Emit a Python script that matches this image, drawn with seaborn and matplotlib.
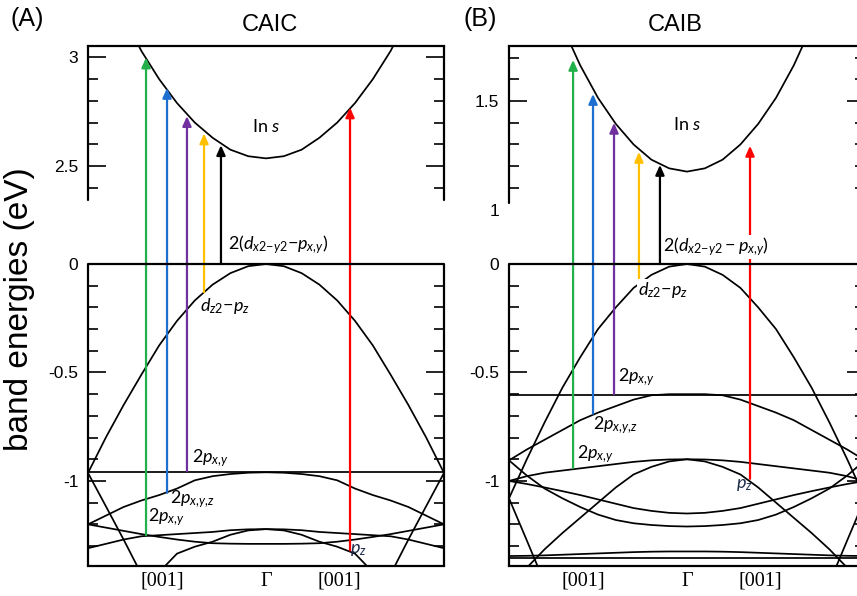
import numpy as np
import pandas as pd
import matplotlib
matplotlib.use('Agg')
import matplotlib.pyplot as plt
import seaborn as sns

nan = np.nan

# k path [001] - Gamma - [001], zone edges at -1 and 1
k = [-1.0, -0.9, -0.8, -0.7, -0.6, -0.5, -0.4, -0.3, -0.2, -0.1, 0.0,
     0.1, 0.2, 0.3, 0.4, 0.5, 0.6, 0.7, 0.8, 0.9, 1.0]
k_left = [-1.0, -0.9, -0.8, -0.7]
k_right = [0.7, 0.8, 0.9, 1.0]
k_ticks = [-0.58, 0.0, 0.41]
k_labels = ['[001]', 'Γ', '[001]']

# ---- CAIC (eV) ----
caic_cond = [nan, nan, 3.19, 3.03, 2.90, 2.79, 2.70, 2.63, 2.575, 2.545, 2.535,
             2.545, 2.575, 2.63, 2.70, 2.79, 2.90, 3.03, 3.19, nan, nan]
caic_v1 = [-0.963, -0.80, -0.65, -0.51, -0.375, -0.262, -0.168, -0.095, -0.042, -0.01, 0.0,
           -0.01, -0.042, -0.095, -0.168, -0.262, -0.375, -0.51, -0.65, -0.80, -0.963]
caic_v2 = [-0.96, -0.96, -0.96, -0.96, -0.96, -0.96, -0.96, -0.96, -0.96, -0.96, -0.96,
           -0.96, -0.96, -0.96, -0.96, -0.96, -0.96, -0.96, -0.96, -0.96, -0.96]
caic_v3 = [-1.20, -1.16, -1.12, -1.09, -1.065, -1.035, -0.997, -0.978, -0.968, -0.962, -0.96,
           -0.962, -0.968, -0.978, -0.997, -1.035, -1.065, -1.09, -1.12, -1.16, -1.20]
caic_v4 = [-1.20, -1.215, -1.23, -1.245, -1.258, -1.27, -1.28, -1.287, -1.289, -1.29, -1.29,
           -1.29, -1.289, -1.287, -1.28, -1.27, -1.258, -1.245, -1.23, -1.215, -1.20]
caic_v5 = [-1.31, -1.29, -1.27, -1.255, -1.25, -1.245, -1.24, -1.235, -1.227, -1.223, -1.222,
           -1.223, -1.227, -1.235, -1.24, -1.245, -1.25, -1.255, -1.27, -1.29, -1.31]
caic_v6 = [nan, nan, nan, nan, -1.42, -1.335, -1.303, -1.28, -1.248, -1.228, -1.222,
           -1.228, -1.248, -1.28, -1.303, -1.335, -1.42, nan, nan, nan, nan]
caic_edge_l = [-0.963, -1.116, -1.27, -1.43]
caic_edge_r = [-1.43, -1.27, -1.116, -0.963]

caic_arrow_k = [-0.674, -0.556, -0.444, -0.348, -0.253, 0.472]
caic_arrow_from = [-1.25, -1.055, -0.955, -0.13, 0.0, -1.32]
caic_arrow_to = [3.0, 2.86, 2.73, 2.65, 2.596, 2.77]

# ---- CAIB (eV) ----
caib_cond = [nan, nan, nan, 1.845, 1.665, 1.515, 1.395, 1.30, 1.23, 1.19, 1.175,
             1.19, 1.23, 1.30, 1.395, 1.515, 1.665, 1.845, nan, nan, nan]
caib_v1 = [-1.08, -0.90, -0.73, -0.57, -0.43, -0.30, -0.20, -0.11, -0.05, -0.012, 0.0,
           -0.012, -0.05, -0.11, -0.20, -0.30, -0.43, -0.57, -0.73, -0.90, -1.08]
caib_v2 = [-0.603, -0.603, -0.603, -0.603, -0.603, -0.603, -0.603, -0.603, -0.603, -0.603, -0.603,
           -0.603, -0.603, -0.603, -0.603, -0.603, -0.603, -0.603, -0.603, -0.603, -0.603]
caib_v3 = [-0.905, -0.855, -0.81, -0.765, -0.72, -0.685, -0.655, -0.625, -0.605, -0.60, -0.60,
           -0.60, -0.605, -0.625, -0.655, -0.685, -0.72, -0.765, -0.81, -0.855, -0.905]
caib_v4 = [-1.0, -0.978, -0.962, -0.952, -0.942, -0.932, -0.922, -0.912, -0.905, -0.901, -0.90,
           -0.901, -0.905, -0.912, -0.922, -0.932, -0.942, -0.952, -0.962, -0.978, -1.0]
caib_v5 = [nan, -1.40, -1.315, -1.24, -1.17, -1.10, -1.03, -0.97, -0.935, -0.91, -0.90,
           -0.91, -0.935, -0.97, -1.03, -1.10, -1.17, -1.24, -1.315, -1.40, nan]
caib_v6 = [-1.0, -1.014, -1.03, -1.047, -1.065, -1.085, -1.105, -1.125, -1.138, -1.147, -1.15,
           -1.147, -1.138, -1.125, -1.105, -1.085, -1.065, -1.047, -1.03, -1.014, -1.0]
caib_v7 = [-0.905, -0.975, -1.035, -1.08, -1.12, -1.155, -1.18, -1.195, -1.203, -1.208, -1.21,
           -1.208, -1.203, -1.195, -1.18, -1.155, -1.12, -1.08, -1.035, -0.975, -0.905]
caib_v8 = [-1.355, -1.355, -1.355, -1.355, -1.355, -1.355, -1.355, -1.355, -1.355, -1.355, -1.355,
           -1.355, -1.355, -1.355, -1.355, -1.355, -1.355, -1.355, -1.355, -1.355, -1.355]
caib_v9 = [-1.346, -1.345, -1.343, -1.34, -1.337, -1.334, -1.331, -1.328, -1.326, -1.325, -1.325,
           -1.325, -1.326, -1.328, -1.331, -1.334, -1.337, -1.34, -1.343, -1.345, -1.346]
caib_edge_l = [-1.08, -1.274, -1.47, nan]
caib_edge_r = [nan, -1.47, -1.274, -1.08]

caib_arrow_k = [-0.64, -0.528, -0.41, -0.27, -0.152, 0.354]
caib_arrow_from = [-0.94, -0.69, -0.60, -0.08, 0.0, -0.99]
caib_arrow_to = [1.69, 1.533, 1.40, 1.266, 1.206, 1.294]

arrow_colors = ['#22b04b', '#1f6fd0', '#7030a0', '#ffc000', 'black', '#ff0000']

lower_major = [-1.0, -0.5, 0.0]
lower_labels = ['-1', '-0.5', '0']
lower_minor = [-1.3, -1.2, -1.1, -0.9, -0.8, -0.7, -0.6, -0.4, -0.3, -0.2, -0.1]

sns.set_theme(style='white', rc={'axes.edgecolor': 'black', 'xtick.color': 'black',
                                 'ytick.color': 'black', 'text.color': 'black'})
plt.rcParams['font.family'] = ['Liberation Sans', 'DejaVu Sans']
plt.rcParams['mathtext.fontset'] = 'custom'
plt.rcParams['mathtext.rm'] = 'Lato'
plt.rcParams['mathtext.it'] = 'Lato:italic'
plt.rcParams['mathtext.bf'] = 'Lato:bold'

Y_TOP, Y_BOT = 1.005, -1.392


def draw_panel(ax, bands, cond, offset, arr_k, arr_from, arr_to,
               up_major, up_labels, up_minor, up_bottom):
    rows = []
    for name, kk, ee, shift in bands + [('cond', k, cond, offset)]:
        for x, y in zip(kk, ee):
            if not np.isnan(y):
                rows.append((x, y - shift, name))
    df = pd.DataFrame(rows, columns=['k', 'E', 'band'])
    sns.lineplot(data=df, x='k', y='E', units='band', estimator=None, sort=False,
                 color='black', lw=1.25, ax=ax, legend=False)
    ax.axhline(0, color='black', lw=1.6, zorder=4)

    for x, e0, e1, c in zip(arr_k, arr_from, arr_to, arrow_colors):
        ax.annotate('', xy=(x, e1 - offset), xytext=(x, e0),
                    arrowprops=dict(arrowstyle='-|>,head_length=0.45,head_width=0.2',
                                    color=c, lw=1.6, shrinkA=0, shrinkB=0,
                                    mutation_scale=13), zorder=3)

    ax.set_xlim(-1, 1)
    ax.set_ylim(Y_BOT, Y_TOP)
    ax.set_xlabel('')
    ax.set_ylabel('')

    # broken left/right axis
    for s in ('left', 'right'):
        ax.spines[s].set_visible(False)
    for s in ('top', 'bottom'):
        ax.spines[s].set_linewidth(1.6)
    tr = ax.get_yaxis_transform()
    for x in (0, 1):
        ax.plot([x, x], [Y_BOT, 0], transform=tr, color='black', lw=1.6, clip_on=False)
        ax.plot([x, x], [up_bottom - offset, Y_TOP], transform=tr, color='black',
                lw=1.6, clip_on=False)

    ax.set_yticks(lower_major + [v - offset for v in up_major])
    ax.set_yticklabels(lower_labels + up_labels)
    ax.set_yticks(lower_minor + [v - offset for v in up_minor], minor=True)
    ax.tick_params(axis='y', which='both', direction='in', left=True, right=True,
                   width=1.2, labelsize=12.5, pad=7)
    ax.tick_params(axis='y', which='major', length=13)
    ax.tick_params(axis='y', which='minor', length=7)

    ax.set_xticks(k_ticks)
    ax.set_xticklabels(k_labels, fontfamily='Liberation Serif', fontsize=14.5)
    ax.tick_params(axis='x', length=0, pad=4)


fig = plt.figure(figsize=(8.57, 5.96), dpi=100)
W, H = 857, 596
axA = fig.add_axes([88 / W, 30 / H, 356 / W, 520 / H])
axB = fig.add_axes([509 / W, 30 / H, 356 / W, 520 / H])

caic_bands = [('v1', k, caic_v1, 0), ('v2', k, caic_v2, 0), ('v3', k, caic_v3, 0),
              ('v4', k, caic_v4, 0), ('v5', k, caic_v5, 0), ('v6', k, caic_v6, 0),
              ('el', k_left, caic_edge_l, 0), ('er', k_right, caic_edge_r, 0)]
draw_panel(axA, caic_bands, caic_cond, 2.048, caic_arrow_k, caic_arrow_from, caic_arrow_to,
           [2.5, 3.0], ['2.5', '3'], [2.4, 2.6, 2.7, 2.8, 2.9], 2.343)

caib_bands = [('v1', k, caib_v1, 0), ('v2', k, caib_v2, 0), ('v3', k, caib_v3, 0),
              ('v4', k, caib_v4, 0), ('v5', k, caib_v5, 0), ('v6', k, caib_v6, 0),
              ('v7', k, caib_v7, 0), ('v8', k, caib_v8, 0), ('v9', k, caib_v9, 0),
              ('el', k_left, caib_edge_l, 0), ('er', k_right, caib_edge_r, 0)]
draw_panel(axB, caib_bands, caib_cond, 0.749, caib_arrow_k, caib_arrow_from, caib_arrow_to,
           [1.0, 1.5], ['1', '1.5'], [1.1, 1.2, 1.3, 1.4, 1.6, 1.7], 1.03)
t1 = axB.yaxis.get_major_ticks()[3]
t1.tick1line.set_visible(False)
t1.tick2line.set_visible(False)

lab = dict(fontsize=13, fontfamily='Lato', zorder=6)
white = dict(facecolor='white', edgecolor='none', pad=0.5)
navy = '#1c2a4a'

# CAIC labels
axA.text(0.0, 0.636, 'In $s$', ha='center', va='center', **lab)
axA.text(-0.213, 0.088, r'$2(d_{x2{-}y2}{-}p_{x{,}y})$', ha='left', va='center', **lab)
axA.text(-0.371, -0.194, r'$d_{z2}{-}p_z$', ha='left', va='center', **lab)
axA.text(-0.416, -0.894, r'$2p_{x{,}y}$', ha='left', va='center', **lab)
axA.text(-0.539, -1.083, r'$2p_{x{,}y{,}z}$', ha='left', va='center', **lab)
axA.text(-0.663, -1.166, r'$2p_{x{,}y}$', ha='left', va='center', **lab)
axA.text(0.472, -1.319, r'$p_z$', ha='left', va='center', color=navy, **lab)

# CAIB labels
axB.text(0.0, 0.641, 'In $s$', ha='center', va='center', **lab)
axB.text(-0.135, 0.078, r'$2(d_{x2{-}y2} - p_{x{,}y})$', ha='left', va='center',
         bbox=white, **lab)
axB.text(-0.275, -0.12, r'$d_{z2}{-}p_z$', ha='left', va='center', bbox=white, **lab)
axB.text(-0.388, -0.521, r'$2p_{x{,}y}$', ha='left', va='center', **lab)
axB.text(-0.528, -0.742, r'$2p_{x{,}y{,}z}$', ha='left', va='center', **lab)
axB.text(-0.618, -0.876, r'$2p_{x{,}y}$', ha='left', va='center', **lab)
axB.text(0.275, -1.019, r'$p_z$', ha='left', va='center', color=navy, **lab)

fig.text(270 / W, 1 - 25 / H, 'CAIC', ha='center', va='center', fontsize=17)
fig.text(675 / W, 1 - 25 / H, 'CAIB', ha='center', va='center', fontsize=17)
fig.text(27 / W, 1 - 19 / H, '(A)', ha='center', va='center', fontsize=18)
fig.text(480 / W, 1 - 19 / H, '(B)', ha='center', va='center', fontsize=18)
fig.text(20 / W, 1 - 309 / H, 'band energies (eV)', rotation=90, ha='center',
         va='center', fontsize=24)

fig.savefig('out.png', dpi=100)
